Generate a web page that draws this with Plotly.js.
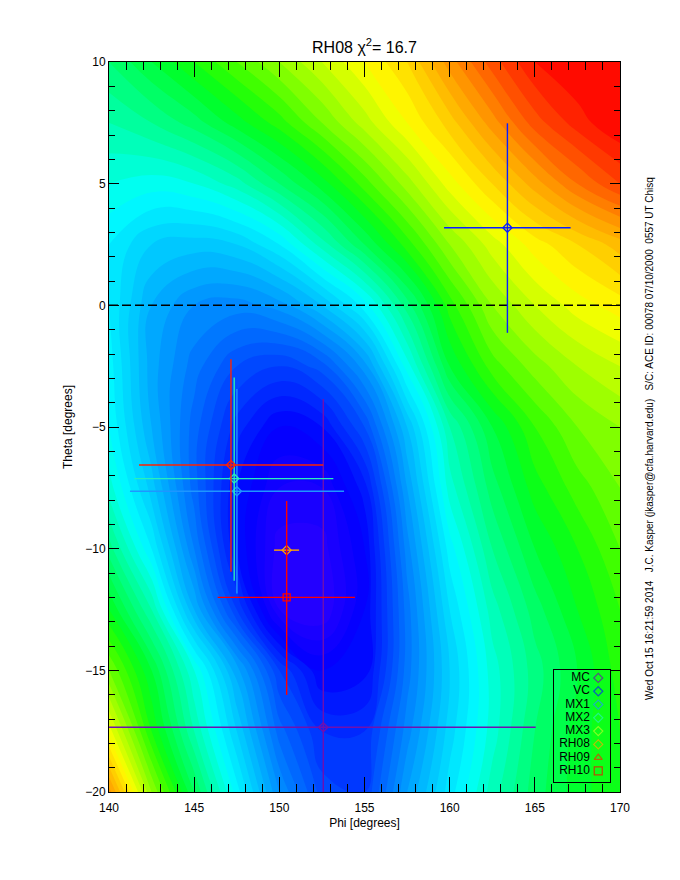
<!DOCTYPE html>
<html><head><meta charset="utf-8">
<script src="https://cdn.plot.ly/plotly-3.0.1.min.js"></script>
<style>body{margin:0;background:#fff}#chart{width:680px;height:880px}</style>
</head><body><div id="chart"></div>
<script>
// ---- contour background: estimated chi-square level (0 = minimum, 1 = maximum) ----
const phiGrid = [140, 142.5, 145, 147.5, 150, 152.5, 155, 157.5, 160, 162.5, 165, 167.5, 170];
const thetaGrid = [-20, -17.5, -15, -12.5, -10, -7.5, -5, -2.5, 0, 2.5, 5, 7.5, 10];
const chiLevel = [
  [0.87, 0.68, 0.54, 0.41, 0.28, 0.19, 0.18, 0.30, 0.39, 0.47, 0.53, 0.57, 0.60],
  [0.75, 0.60, 0.48, 0.36, 0.23, 0.16, 0.16, 0.27, 0.37, 0.45, 0.52, 0.57, 0.60],
  [0.66, 0.56, 0.44, 0.31, 0.18, 0.10, 0.11, 0.25, 0.36, 0.45, 0.51, 0.56, 0.61],
  [0.58, 0.48, 0.32, 0.18, 0.04, 0.02, 0.10, 0.25, 0.38, 0.47, 0.53, 0.58, 0.62],
  [0.51, 0.40, 0.26, 0.12, 0.03, 0.03, 0.10, 0.27, 0.41, 0.50, 0.56, 0.60, 0.64],
  [0.45, 0.35, 0.23, 0.12, 0.06, 0.06, 0.13, 0.30, 0.45, 0.53, 0.59, 0.63, 0.66],
  [0.42, 0.32, 0.23, 0.15, 0.10, 0.12, 0.20, 0.34, 0.48, 0.56, 0.62, 0.66, 0.68],
  [0.41, 0.31, 0.25, 0.20, 0.18, 0.21, 0.29, 0.43, 0.56, 0.63, 0.67, 0.70, 0.72],
  [0.40, 0.32, 0.28, 0.27, 0.29, 0.34, 0.41, 0.51, 0.61, 0.68, 0.72, 0.75, 0.77],
  [0.40, 0.36, 0.35, 0.36, 0.40, 0.47, 0.54, 0.61, 0.68, 0.73, 0.77, 0.80, 0.83],
  [0.44, 0.43, 0.44, 0.47, 0.52, 0.57, 0.63, 0.69, 0.75, 0.80, 0.85, 0.90, 0.94],
  [0.48, 0.50, 0.53, 0.57, 0.61, 0.66, 0.71, 0.76, 0.81, 0.87, 0.93, 0.97, 1.00],
  [0.52, 0.56, 0.60, 0.64, 0.68, 0.72, 0.76, 0.80, 0.87, 0.93, 0.98, 1.00, 1.00]
];

// ---- fitted directions with errors ----
const seriesNames = ['MC', 'VC', 'MX1', 'MX2', 'MX3', 'RH08', 'RH09', 'RH10'];
const phiDeg      = [152.58, 163.39, 147.51, 147.35, null, 150.43, 147.16, 150.43];
const thetaDeg    = [-17.34,   3.19,  -7.64,  -7.12, null, -10.06,  -6.56, -12.00];
const phiErrLow   = [ 12.90,   3.72,   6.28,   5.86, null,   0.74,   5.40,   4.05];
const phiErrHigh  = [ 12.47,   3.71,   6.29,   5.82, null,   0.73,   5.42,   4.01];
const thetaErrHigh= [ 13.49,   4.29,   4.20,   4.15, null,   0.00,   4.34,   3.96];
const thetaErrLow = [  4.00,   4.32,   4.20,   4.20, null,   0.00,   4.39,   4.01];

const referencePhi = [140, 170];
const referenceTheta = [0, 0];

const xTickVals = [140, 145, 150, 155, 160, 165, 170];
const yTickVals = [-20, -15, -10, -5, 0, 5, 10];

const titleText = 'RH08 χ<sup>2</sup>= 16.7';
const xTitle = 'Phi [degrees]';
const yTitle = 'Theta [degrees]';
const footerText = 'Wed Oct 15 16:21:59 2014   J.C. Kasper (jkasper@cfa.harvard.edu)   S/C: ACE ID: 00078 07/10/2000  0557 UT Chisq';

// ---- styles ----
const seriesColors = ['#7010b0', '#0a1eff', '#1e96ff', '#28f0b8', '#b4ff28', '#ffa500', '#ff2200', '#ff0000'];
const pointSymbols = ['diamond-open', 'diamond-open', 'diamond-open', 'diamond-open', 'diamond-open', 'diamond-open', 'diamond-open', 'square-open'];
const legendSymbols = ['diamond-open', 'diamond-open', 'diamond-open', 'diamond-open', 'diamond-open', 'diamond-open', 'triangle-up-open', 'square-open'];
const FONT = 'Liberation Sans, Arial, sans-serif';

const rainbow = [
  [0.00, '#3200ff'], [0.10, '#0000ff'], [0.20, '#0050ff'], [0.30, '#00a0ff'],
  [0.42, '#00ffff'], [0.50, '#00ff90'], [0.58, '#00ff20'], [0.62, '#30ff00'],
  [0.68, '#90ff00'], [0.76, '#ffff00'], [0.86, '#ffa000'], [0.93, '#ff5000'], [1.00, '#ff0000']
];

const traces = [];
traces.push({
  type: 'contour', x: phiGrid, y: thetaGrid, z: chiLevel,
  colorscale: rainbow, zmin: 0, zmax: 1, showscale: false,
  contours: {start: 0, end: 1, size: 0.02, coloring: 'fill', showlines: false},
  line: {width: 0, smoothing: 1.3}, hoverinfo: 'skip'
});
traces.push({
  type: 'scatter', mode: 'lines', x: referencePhi, y: referenceTheta,
  line: {color: '#000', width: 1.5, dash: '9px,4px'}, hoverinfo: 'skip', showlegend: false
});
seriesNames.forEach((name, i) => {
  if (phiDeg[i] === null) return;
  traces.push({
    type: 'scatter', mode: 'markers', name: name,
    x: [phiDeg[i]], y: [thetaDeg[i]],
    marker: {symbol: pointSymbols[i], size: 7, color: seriesColors[i], line: {width: 1.3, color: seriesColors[i]}},
    error_x: {type: 'data', symmetric: false, array: [phiErrHigh[i]], arrayminus: [phiErrLow[i]], color: seriesColors[i], thickness: 1.4, width: 0},
    error_y: {type: 'data', symmetric: false, array: [thetaErrHigh[i]], arrayminus: [thetaErrLow[i]], color: seriesColors[i], thickness: 1.4, width: 0},
    showlegend: false
  });
});
// custom legend box (own small axes)
const legendIndex = seriesNames.map((_, i) => i);
traces.push({
  type: 'scatter', mode: 'text', xaxis: 'x2', yaxis: 'y2',
  x: seriesNames.map(() => 0.64), y: legendIndex, text: seriesNames,
  textposition: 'middle left', textfont: {family: FONT, size: 12, color: '#000'},
  hoverinfo: 'skip', showlegend: false
});
traces.push({
  type: 'scatter', mode: 'markers', xaxis: 'x2', yaxis: 'y2',
  x: seriesNames.map(() => 0.79), y: legendIndex,
  marker: {symbol: legendSymbols, size: legendSymbols.map(s => s === 'square-open' ? 8 : 7), color: seriesColors, line: {width: 1.2, color: seriesColors}},
  hoverinfo: 'skip', showlegend: false
});

const axisCommon = {
  showgrid: false, zeroline: false, showline: true, linecolor: '#000', linewidth: 1,
  mirror: 'ticks', ticks: 'inside', tickcolor: '#000', tickwidth: 1,
  tickfont: {family: FONT, size: 12, color: '#000'}
};

const layout = {
  width: 680, height: 880,
  margin: {l: 109, r: 60, t: 62, b: 88},
  paper_bgcolor: '#fff', plot_bgcolor: 'rgba(0,0,0,0)',
  font: {family: FONT, color: '#000'},
  showlegend: false,
  title: {text: titleText, font: {family: FONT, size: 16, color: '#000'}, x: 0.5, xref: 'paper', y: 1 - 47 / 880, yref: 'container', yanchor: 'middle'},
  xaxis: Object.assign({}, axisCommon, {
    range: [140, 170], tickvals: xTickVals, ticklen: 15, ticklabelstandoff: 5,
    minor: {dtick: 1, ticklen: 8, ticks: 'inside', tickcolor: '#000', tickwidth: 1},
    title: {text: xTitle, font: {family: FONT, size: 12, color: '#000'}, standoff: 4}
  }),
  yaxis: Object.assign({}, axisCommon, {
    range: [-20, 10], tickvals: yTickVals, ticklen: 10,
    minor: {dtick: 1, ticklen: 6, ticks: 'inside', tickcolor: '#000', tickwidth: 1},
    title: {text: yTitle, font: {family: FONT, size: 12, color: '#000'}, standoff: 10}
  }),
  xaxis2: {domain: [(554 - 109) / 511, (610 - 109) / 511], anchor: 'y2', range: [0, 1],
    showgrid: false, zeroline: false, showticklabels: false, ticks: '', showline: true, mirror: true, linecolor: '#000', linewidth: 1},
  yaxis2: {domain: [(792 - 782) / 730, (792 - 670) / 730], anchor: 'x2', range: [7.83, -0.6],
    showgrid: false, zeroline: false, showticklabels: false, ticks: '', showline: true, mirror: true, linecolor: '#000', linewidth: 1},
  annotations: [{
    text: footerText, xref: 'paper', yref: 'paper', x: (650 - 109) / 511, y: (792 - 439) / 730,
    textangle: -90, showarrow: false, font: {family: FONT, size: 10, color: '#000'},
    xanchor: 'center', yanchor: 'middle'
  }]
};

Plotly.newPlot('chart', traces, layout, {staticPlot: true, displayModeBar: false});
</script>
</body></html>
